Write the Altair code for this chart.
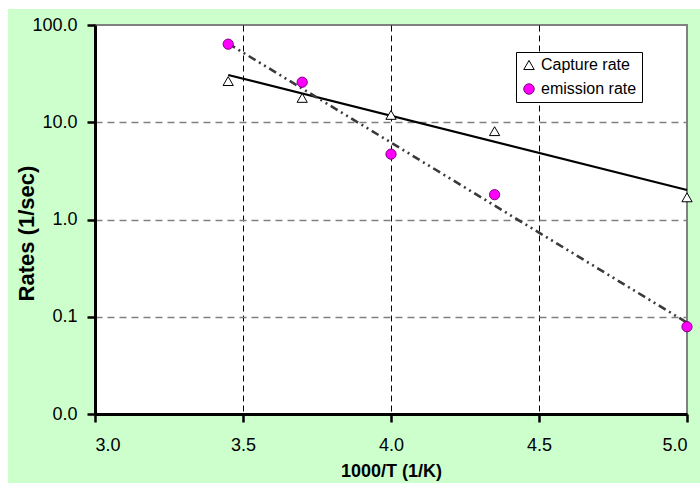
import altair as alt
import pandas as pd

# ---- data ----
x_vals = [3.45, 3.70, 4.00, 4.35, 5.00]
capture_rate = [26.5, 17.8, 11.9, 8.1, 1.69]
emission_rate = [63.5, 25.8, 4.7, 1.80, 0.079]

trend_x = [3.45, 5.00]
capture_trend = [30.6, 2.01]
emission_trend = [64.5, 0.087]

series_names = ["Capture rate", "emission rate"]
x_ticks = [3.0, 3.5, 4.0, 4.5, 5.0]
y_ticks = [0.01, 0.1, 1, 10, 100]

# ---- tables ----
pts = pd.DataFrame(
    {"x": x_vals * 2,
     "y": capture_rate + emission_rate,
     "series": [series_names[0]] * len(x_vals) + [series_names[1]] * len(x_vals)}
)
cap_tr = pd.DataFrame({"x": trend_x, "y": capture_trend})
emi_tr = pd.DataFrame({"x": trend_x, "y": emission_trend})
dummy = pd.DataFrame({"a": [1]})

FONT = "Liberation Sans"
GREEN = "#CCFFCC"

x_scale = alt.Scale(domain=[3.0, 5.0], nice=False, zero=False)
y_scale = alt.Scale(type="log", domain=[0.01, 100], nice=False)

x_axis = alt.Axis(
    values=x_ticks, format=".1f", title="1000/T (1/K)",
    labelFont=FONT, labelFontSize=18, labelColor="black", labelPadding=14,
    titleFont=FONT, titleFontSize=18, titleFontWeight="bold", titleColor="black",
    titleY=57, titleBaseline="middle",
    domainColor="black", domainWidth=3,
    tickColor="black", tickWidth=2.5, tickSize=8,
    grid=True, gridColor="black", gridWidth=1, gridDash=[6, 4],
    gridOpacity=alt.condition("datum.value > 4.9 || datum.value < 3.1", alt.value(0), alt.value(1)),
)
y_axis = alt.Axis(
    values=y_ticks, format=".1f", title="Rates (1/sec)",
    labelFont=FONT, labelFontSize=18, labelColor="black", labelPadding=10,
    titleFont=FONT, titleFontSize=22, titleFontWeight="bold", titleColor="black",
    titleX=-69, titleY=208, titleAngle=270, titleAlign="center", titleBaseline="middle",
    domainColor="black", domainWidth=3,
    tickColor="black", tickWidth=2.5, tickSize=8,
    grid=True, gridColor="#808080", gridWidth=1.5, gridDash=[7, 5],
    gridOpacity=alt.condition("datum.value > 50 || datum.value < 0.05", alt.value(0), alt.value(1)),
)

# white strips outside the green chart area (top and left edges)
strip_top = alt.Chart(dummy).mark_rect(color="white").encode(
    x=alt.value(-95), x2=alt.value(605), y=alt.value(-25), y2=alt.value(-16)
)
strip_left = alt.Chart(dummy).mark_rect(color="white").encode(
    x=alt.value(-95), x2=alt.value(-87), y=alt.value(-25), y2=alt.value(458)
)

cap_line = alt.Chart(cap_tr).mark_line(color="black", strokeWidth=2.2).encode(
    x=alt.X("x:Q", scale=x_scale, axis=x_axis),
    y=alt.Y("y:Q", scale=y_scale, axis=y_axis),
)
emi_line = alt.Chart(emi_tr).mark_line(
    color="#3a3a3a", strokeWidth=2.6, strokeDash=[8, 4, 2, 4, 2, 4]
).encode(
    x=alt.X("x:Q", scale=x_scale),
    y=alt.Y("y:Q", scale=y_scale),
)

legend = alt.Legend(
    orient="none", legendX=421, legendY=27, title=None,
    labelFont=FONT, labelFontSize=16, labelColor="black",
    strokeColor="black", fillColor="white", padding=5,
    rowPadding=8, labelOffset=4, symbolStrokeWidth=1, symbolSize=110,
)
points = alt.Chart(pts).mark_point(filled=True, opacity=1, strokeWidth=1, size=105).encode(
    x=alt.X("x:Q", scale=x_scale),
    y=alt.Y("y:Q", scale=y_scale),
    shape=alt.Shape("series:N", scale=alt.Scale(domain=series_names, range=["triangle-up", "circle"]), legend=legend),
    fill=alt.Fill("series:N", scale=alt.Scale(domain=series_names, range=["white", "#FF00FF"]), legend=legend),
    stroke=alt.Stroke("series:N", scale=alt.Scale(domain=series_names, range=["black", "#800080"]), legend=legend),
)

chart = alt.layer(strip_top, strip_left, cap_line, emi_line, points).properties(
    width=592, height=389,
    background=GREEN,
    padding={"left": 95, "top": 25, "right": 13, "bottom": 69},
    autosize=alt.AutoSizeParams(type="none"),
).configure_view(
    stroke="#808080", strokeWidth=2, fill="white"
)

chart.save("out.html", embed_options={"renderer": "svg", "actions": False})
